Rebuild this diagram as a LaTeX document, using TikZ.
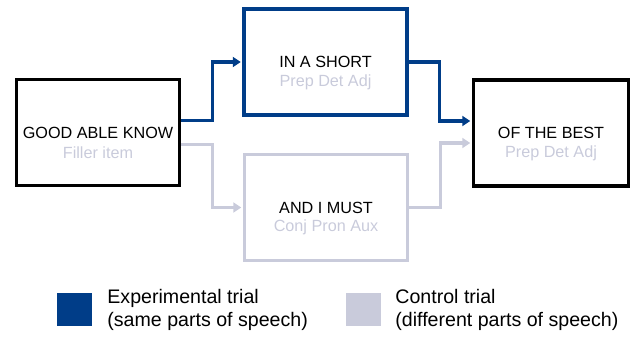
\documentclass[tikz,border=0pt]{standalone}
\usepackage{fontspec}
\setmainfont{Liberation Sans}
\usepackage{xcolor}
\usetikzlibrary{arrows.meta, positioning, calc}
\definecolor{expblue}{HTML}{003D88}
\definecolor{ctlgray}{HTML}{C9CBDB}

\begin{document}
\begin{tikzpicture}[x=1pt, y=-1pt,
  wordbox/.style={draw, line width=3.4pt, minimum width=163pt, minimum height=106pt, inner sep=0pt},
  wordtext/.style={font=\fontsize{16.2}{19}\selectfont, inner sep=0pt},
  postext/.style={font=\fontsize{16.2}{19}\selectfont, text=ctlgray, inner sep=0pt},
  exparrow/.style={expblue, line width=3.3pt, shorten >=1.5pt, -{Triangle[length=8pt, width=10pt]}},
  ctlarrow/.style={ctlgray, line width=3.3pt, shorten >=1.5pt, -{Triangle[length=8pt, width=10pt]}},
  keybox/.style={minimum width=35pt, minimum height=33pt, inner sep=0pt},
  legtext/.style={font=\fontsize{19.6}{23}\selectfont, align=left, inner sep=0pt}]
\useasboundingbox (0,0) rectangle (634,337);

% Word boxes
\node[wordbox] (good) at (98,132.5) {};
\node[wordbox, expblue] (short) at (325.5,62) {};
\node[wordbox, ctlgray] (must) at (326,207.5) {};
\node[wordbox, minimum width=155pt] (best) at (551,133) {};

% Words and parts of speech
\node[wordtext] (goodw) at (good.center) {GOOD ABLE KNOW};
\node[postext] at ([yshift=-20pt]goodw.center) {Filler item};
\node[wordtext] (shortw) at (short.center) {IN A SHORT};
\node[postext] at ([yshift=-20pt]shortw.center) {Prep Det Adj};
\node[wordtext] (mustw) at (must.center) {AND I MUST};
\node[postext] at ([yshift=-20pt]mustw.center) {Conj Pron Aux};
\node[wordtext] (bestw) at (best.center) {OF THE BEST};
\node[postext] at ([yshift=-20pt]bestw.center) {Prep Det Adj};

% Experimental path
\draw[exparrow] ([yshift=12pt]good.east) -- ++(31,0) |- (short.west);
\draw[exparrow] (short.east) -- ++(31,0) |- ([yshift=12pt]best.west);

% Control path
\draw[ctlarrow] ([yshift=-12pt]good.east) -- ++(31,0) |- (must.west);
\draw[ctlarrow] (must.east) -- ++(31,0) |- ([yshift=-10pt]best.west);

% Legend
\node[keybox, fill=expblue] (expkey) at (74.5,309.5) {};
\node[legtext, right=15pt of expkey] {Experimental trial\\(same parts of speech)};
\node[keybox, fill=ctlgray] (ctlkey) at (363.5,309.5) {};
\node[legtext, right=14pt of ctlkey] {Control trial\\(different parts of speech)};
\end{tikzpicture}
\end{document}
